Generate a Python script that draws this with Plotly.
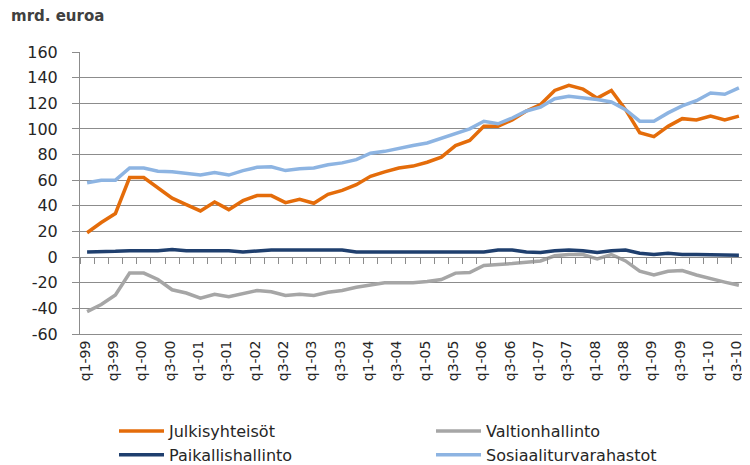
import plotly.graph_objects as go

# Quarter categories q1-99 ... q3-10
quarters = []
for yy in range(1999, 2011):
    for q in range(1, 5):
        if yy == 2010 and q > 3:
            break
        quarters.append(f"q{q}-{yy % 100:02d}")

tick_labels = quarters[::2]
y_ticks = [-60, -40, -20, 0, 20, 40, 60, 80, 100, 120, 140, 160]
y_tick_text = [str(v) for v in y_ticks]

julkisyhteisot = [19, 27, 34, 62, 62, 54, 46, 41, 36, 43, 37, 44, 48, 48, 42.5, 45, 42, 49, 52, 56.5,
                  63, 66.5, 69.5, 71, 74, 78, 87, 91, 102, 102, 107, 114, 119, 130, 134, 131, 124, 130,
                  115, 97, 94, 102, 108, 107, 110, 107, 110]
valtionhallinto = [-42.5, -37, -29.5, -12.5, -12.5, -17.5, -25.5, -28, -32, -29, -31, -28.5, -26, -27, -30,
                   -29, -30, -27.5, -26, -23.5, -22, -20, -20, -20, -19, -17.5, -12.5, -12, -6.5, -6, -5,
                   -4, -3, 1, 2, 2, -1.5, 2, -3, -11, -14, -11, -10.5, -14, -17, -19.5, -22]
paikallishallinto = [4, 4, 4.5, 5, 5, 5, 6, 5, 5, 5, 5, 4, 5, 5.5, 5.5, 5.5, 5.5, 5.5, 5.5, 4, 4, 4, 4, 4,
                     4, 4, 4, 4, 4, 5.5, 5.5, 4, 3.5, 5, 5.5, 5, 3.5, 5, 5.5, 3, 2, 3, 2, 2, 2, 2, 1.5]
sosiaaliturvarahastot = [58, 60, 60, 69.5, 69.5, 67, 66.5, 65, 64, 66, 64, 67.5, 70, 70.5, 67.5, 69, 69.5,
                         72, 73.5, 76, 81, 82.5, 85, 87, 89, 92.5, 96.5, 100, 106, 104, 108.5, 114, 117,
                         123.5, 125.5, 124.5, 123, 121, 115, 106, 106, 112.5, 118, 122, 128, 127, 132]

series = [
    ("Julkisyhteisöt", julkisyhteisot, "#E46C0A", "legend"),
    ("Valtionhallinto", valtionhallinto, "#A6A6A6", "legend2"),
    ("Paikallishallinto", paikallishallinto, "#1F3F6E", "legend"),
    ("Sosiaaliturvarahastot", sosiaaliturvarahastot, "#8DB4E2", "legend2"),
]

FONT = "DejaVu Sans"
TXT = "#262626"
GRID = "#8C8C8C"

fig = go.Figure()
for name, vals, col, leg in series:
    fig.add_trace(go.Scatter(x=quarters, y=vals, name=name, mode="lines", legend=leg,
                             line=dict(color=col, width=3.5)))

# helper trace so the zero-line category axis and the y tick-mark axis are rendered
fig.add_trace(go.Scatter(x=quarters, y=[None] * len(quarters), xaxis="x2", yaxis="y2",
                         showlegend=False, hoverinfo="skip"))

ymin, ymax = -60, 160
# figure coordinates (page body adds an 8px offset in the browser)
L, R, T, B = 72, 12, 44, 139
W, H = 750, 465
pw, ph = W - L - R, H - T - B


def px_x(px):
    return (px - L) / pw


def px_y(py):
    return (H - B - py) / ph


legend_common = dict(orientation="v", xanchor="left", yanchor="top",
                     font=dict(size=16, color=TXT), itemwidth=45,
                     tracegroupgap=0, bgcolor="rgba(0,0,0,0)")

fig.update_layout(
    width=W, height=H,
    margin=dict(l=L, r=R, t=T, b=B, autoexpand=False),
    paper_bgcolor="white", plot_bgcolor="white",
    font=dict(family=FONT, color=TXT),
    showlegend=True,
    legend=dict(x=px_x(106), y=px_y(406), **legend_common),
    legend2=dict(x=px_x(423), y=px_y(406), **legend_common),
    xaxis=dict(type="category", categoryorder="array", categoryarray=quarters,
               range=[-0.5, len(quarters) - 0.5],
               tickmode="array", tickvals=tick_labels, ticktext=tick_labels,
               tickangle=-90, ticks="", showgrid=False, zeroline=False,
               showline=True, linecolor=GRID, linewidth=1, automargin=False,
               ticklabeloverflow="allow", ticklabelshift=-2,
               tickfont=dict(size=14, color=TXT)),
    xaxis2=dict(type="category", categoryorder="array", categoryarray=quarters,
                range=[-0.5, len(quarters) - 0.5], overlaying="x", anchor="free",
                position=(0 - ymin) / (ymax - ymin),
                showticklabels=False, ticks="outside", tickson="boundaries",
                ticklen=6, tickcolor=GRID, tickwidth=1, dtick=1,
                showline=True, linecolor=GRID, linewidth=1, showgrid=False),
    # main y axis: labels pushed away from the axis with an invisible long tick
    yaxis=dict(range=[ymin, ymax], tickmode="array", tickvals=y_ticks, ticktext=y_tick_text,
               showgrid=True, gridcolor=GRID, automargin=False,
               gridwidth=1, zeroline=False, showline=True, linecolor=GRID, linewidth=1,
               ticks="outside", ticklen=18, tickcolor="rgba(0,0,0,0)",
               tickfont=dict(size=16, color=TXT)),
    # overlay y axis that draws the short visible tick marks
    yaxis2=dict(range=[ymin, ymax], tickmode="array", tickvals=y_ticks, overlaying="y",
                anchor="x", side="left", showticklabels=False, showgrid=False,
                zeroline=False, showline=False, ticks="outside", ticklen=7,
                tickcolor=GRID, tickwidth=1, automargin=False),
    annotations=[dict(text="<b>mrd. euroa</b>", xref="paper", yref="paper",
                      x=px_x(1), y=px_y(8), xanchor="left", yanchor="middle",
                      showarrow=False, font=dict(size=15, color="#404040", family=FONT))],
)

fig.write_html("out.html")
